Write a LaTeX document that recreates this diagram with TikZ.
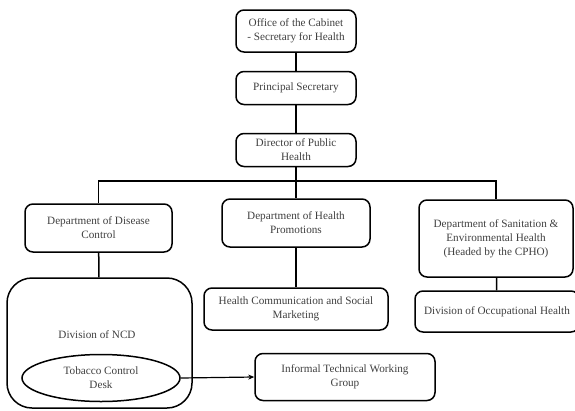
\documentclass[tikz,border=0pt]{standalone}
\usepackage{fontspec}
\setmainfont{Liberation Serif}
\usetikzlibrary{shapes.geometric,arrows.meta}
\begin{document}
\begin{tikzpicture}[x=1pt,y=-1pt,
  box/.style={draw, line width=1.5pt, rounded corners=8pt, align=center, inner sep=2pt,
    font=\fontsize{11.2}{14}\selectfont, text=black!75},
  conn/.style={line width=1.5pt},
  lbl/.style={align=center, font=\fontsize{11.2}{14}\selectfont, text=black!75}]
\clip (0,0) rectangle (575,410);
\fill[white] (0,0) rectangle (575,410);
\node[box, minimum width=120pt, minimum height=42pt] (office) at (296,31) {Office of the Cabinet\\- Secretary for Health};
\node[box, minimum width=120pt, minimum height=33pt] (ps) at (296,88) {Principal Secretary};
\node[box, minimum width=120pt, minimum height=33pt] (dph) at (296,150) {Director of Public\\Health};
\node[box, minimum width=147pt, minimum height=48pt] (ddc) at (98.5,228) {Department of Disease\\Control};
\node[box, minimum width=185pt, minimum height=130pt, rounded corners=25pt] (ncd) at (99.5,343) {};
\node[lbl] (ncdl) at (97,335) {Division of NCD};
\node[draw, ellipse, line width=1.5pt, minimum width=158pt, minimum height=47pt, inner sep=0pt, lbl] (tcd) at (101,378) {Tobacco Control\\Desk};
\node[box, minimum width=180pt, minimum height=47pt] (itwg) at (345,377) {Informal Technical Working\\Group};
\node[box, minimum width=148pt, minimum height=48pt] (dhp) at (296,223) {Department of Health\\Promotions};
\node[box, minimum width=184pt, minimum height=42pt] (hcsm) at (296,309) {Health Communication and Social\\Marketing};
\node[box, minimum width=154pt, minimum height=77pt] (dseh) at (496,238.5) {Department of Sanitation \&\\Environmental Health\\(Headed by the CPHO)};
\node[box, minimum width=164pt, minimum height=41pt] (doh) at (497,311.5) {Division of Occupational Health};
\coordinate (bus) at (296,181);
\draw[conn] (office) -- (ps);
\draw[conn] (ps) -- (dph);
\draw[conn] (dph.south) -- (dhp.north);
\draw[conn] (ddc.north) |- (bus) -| (dseh.north);
\draw[conn] (ddc) -- (ncd);
\draw[conn] (dhp) -- (hcsm);
\draw[conn] (dseh) -- (doh);
\draw[line width=1.2pt, -{Stealth[length=6pt,width=5pt]}] (tcd.east) -- (itwg.west);
\end{tikzpicture}
\end{document}
